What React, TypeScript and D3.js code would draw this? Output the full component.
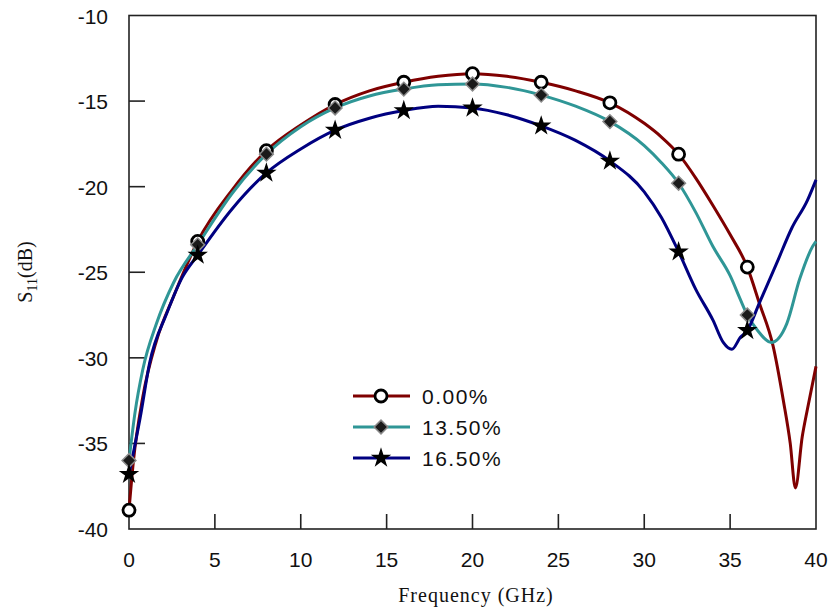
import React from "react";
import * as d3 from "d3";

// S11 vs frequency for three porosity levels
const freqA = [0, 0.25, 0.8, 1.6, 2.6, 4, 6, 8, 10, 12, 14, 16, 18, 20, 22, 24, 26, 28, 30, 31, 32, 33, 34, 35, 36, 36.7, 37.5, 38.1, 38.5, 38.8, 39.2, 39.5, 40];
const s11A = [-38.9, -36.1, -32.3, -29.0, -26.4, -23.2, -20.2, -17.9, -16.4, -15.2, -14.4, -13.9, -13.55, -13.4, -13.55, -13.9, -14.4, -15.1, -16.3, -17.1, -18.1, -19.5, -21.1, -22.8, -24.7, -26.8, -29.3, -32.5, -35.0, -37.6, -34.6, -33.0, -30.5];

const freqB = [0, 0.35, 0.8, 1.6, 2.6, 4, 6, 8, 10, 12, 14, 16, 18, 20, 22, 24, 26, 28, 30, 31, 32, 33, 34, 35, 35.6, 36, 36.6, 37.4, 38.3, 39.05, 39.8, 40];
const s11B = [-36.0, -33.2, -30.7, -28.0, -25.6, -23.4, -20.4, -18.1, -16.5, -15.4, -14.7, -14.3, -14.05, -14.0, -14.2, -14.65, -15.3, -16.2, -17.6, -18.6, -19.8, -21.5, -23.5, -25.2, -26.6, -27.5, -28.4, -29.1, -28.0, -25.4, -23.5, -23.2];

const freqC = [0, 0.65, 1.2, 2.2, 3.1, 4, 6, 8, 10, 12, 14, 16, 18, 20, 22, 24, 26, 28, 30, 31, 32, 33, 34, 34.6, 35.1, 35.6, 36, 36.7, 37.7, 38.6, 39.5, 40];
const s11C = [-36.8, -33.5, -30.3, -27.4, -25.3, -24.0, -21.3, -19.2, -17.8, -16.7, -16.0, -15.55, -15.3, -15.4, -15.8, -16.45, -17.3, -18.5, -20.3, -21.8, -23.8, -26.0, -27.8, -29.1, -29.5, -28.8, -28.4, -26.8, -24.5, -22.4, -20.8, -19.6];

const seriesNames = ["0.00%", "13.50%", "16.50%"];
const seriesColors = ["#7f0000", "#2f9696", "#000080"];
const markerKinds = ["circle", "diamond", "star"];

const xTicks = [0, 5, 10, 15, 20, 25, 30, 35, 40];
const yTicks = [-10, -15, -20, -25, -30, -35, -40];

const W = 830;
const H = 613;
const left = 129, right = 816, top = 15.5, bottom = 529;

function Marker({ kind, x, y }: { kind: string; x: number; y: number }) {
  if (kind === "circle") {
    return <circle cx={x} cy={y} r={6} fill="#fff" stroke="#000" strokeWidth={2.8} />;
  }
  if (kind === "diamond") {
    const p = d3.symbol().type(d3.symbolSquare).size(95)();
    return <path d={p || ""} transform={`translate(${x},${y}) rotate(45)`} fill="#1a1a1a" stroke="#8a8a8a" strokeWidth={1.5} />;
  }
  const p = d3.symbol().type(d3.symbolStar).size(130)();
  return <path d={p || ""} transform={`translate(${x},${y})`} fill="#000" />;
}

export default function App() {
  const x = d3.scaleLinear().domain([0, 40]).range([left, right]);
  const y = d3.scaleLinear().domain([-40, -10]).range([bottom, top]);

  const series = [
    { f: freqA, v: s11A },
    { f: freqB, v: s11B },
    { f: freqC, v: s11C },
  ];

  const line = d3
    .line<[number, number]>()
    .x((d) => x(d[0]))
    .y((d) => y(d[1]))
    .curve(d3.curveMonotoneX);

  const tickFont = "'Liberation Sans', Arial, sans-serif";
  const legendY = [396, 427, 458];

  return (
    <svg width={W} height={H} style={{ position: "absolute", left: 0, top: 0, background: "#fff" }}>
      <rect x={0} y={0} width={W} height={H} fill="#fff" />
      {/* frame */}
      <rect x={left} y={top} width={right - left} height={bottom - top} fill="none" stroke="#222" strokeWidth={1.6} />
      {xTicks.slice(1, -1).map((t) => (
        <line key={"xt" + t} x1={x(t)} x2={x(t)} y1={bottom} y2={bottom - 15} stroke="#222" strokeWidth={1.6} />
      ))}
      {yTicks.slice(1, -1).map((t) => (
        <line key={"yt" + t} x1={left} x2={left + 16} y1={y(t)} y2={y(t)} stroke="#222" strokeWidth={1.6} />
      ))}
      {xTicks.map((t) => (
        <text key={"xl" + t} x={x(t)} y={567} textAnchor="middle" fontFamily={tickFont} fontSize={21} fill="#111">
          {t}
        </text>
      ))}
      {yTicks.map((t) => (
        <text key={"yl" + t} x={108} y={y(t) + 8} textAnchor="end" fontFamily={tickFont} fontSize={21} fill="#111">
          {t}
        </text>
      ))}

      {/* curves */}
      {series.map((s, i) => (
        <path
          key={"s" + i}
          d={line(s.f.map((f, j) => [f, s.v[j]] as [number, number])) || ""}
          fill="none"
          stroke={seriesColors[i]}
          strokeWidth={3}
          strokeLinejoin="round"
        />
      ))}
      {series.map((s, i) =>
        s.f.map((f, j) =>
          f % 4 === 0 && f < 40 ? <Marker key={`m${i}-${j}`} kind={markerKinds[i]} x={x(f)} y={y(s.v[j])} /> : null
        )
      )}

      {/* legend */}
      {seriesNames.map((n, i) => (
        <g key={"lg" + i}>
          <line x1={353} x2={410} y1={legendY[i]} y2={legendY[i]} stroke={seriesColors[i]} strokeWidth={3} />
          <Marker kind={markerKinds[i]} x={381} y={legendY[i]} />
          <text x={422} y={legendY[i] + 8} fontFamily={tickFont} fontSize={21} letterSpacing={1.5} fill="#111">
            {n}
          </text>
        </g>
      ))}

      {/* axis titles */}
      <text x={476} y={602} textAnchor="middle" fontFamily="'Liberation Serif', 'Times New Roman', serif" fontSize={20} letterSpacing={1} fill="#111">
        Frequency (GHz)
      </text>
      <text
        transform="translate(32,272) rotate(-90)"
        textAnchor="middle"
        fontFamily="'Liberation Serif', 'Times New Roman', serif"
        fontSize={20}
        fill="#111"
      >
        S<tspan fontSize={14} dy={5}>11</tspan>
        <tspan dy={-5}>(dB)</tspan>
      </text>
    </svg>
  );
}
